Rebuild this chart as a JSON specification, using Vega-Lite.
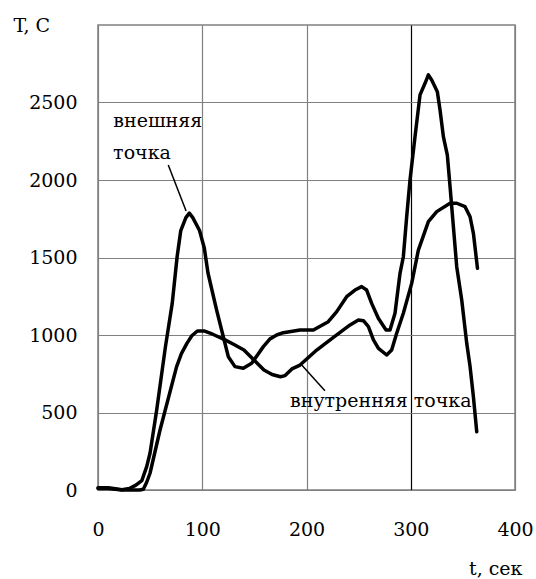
{
  "$schema": "https://vega.github.io/schema/vega-lite/v6.json",
  "width": 417,
  "height": 465,
  "autosize": {"type": "none"},
  "padding": {"left": 98, "top": 25, "right": 21, "bottom": 89},
  "background": "white",
  "config": {
    "view": {"stroke": "#808080", "strokeWidth": 1.5},
    "font": "DejaVu Serif"
  },
  "datasets": {
    "curves": [
      {"series": "outer", "t": 0, "T": 14},
      {"series": "outer", "t": 10, "T": 14},
      {"series": "outer", "t": 23, "T": 2},
      {"series": "outer", "t": 30, "T": 10},
      {"series": "outer", "t": 36, "T": 30},
      {"series": "outer", "t": 42, "T": 60},
      {"series": "outer", "t": 46.7, "T": 151},
      {"series": "outer", "t": 49.9, "T": 237},
      {"series": "outer", "t": 56.3, "T": 516},
      {"series": "outer", "t": 64.7, "T": 925},
      {"series": "outer", "t": 71.2, "T": 1204},
      {"series": "outer", "t": 75.9, "T": 1505},
      {"series": "outer", "t": 79.4, "T": 1674},
      {"series": "outer", "t": 84.3, "T": 1757},
      {"series": "outer", "t": 87.6, "T": 1786},
      {"series": "outer", "t": 90.9, "T": 1757},
      {"series": "outer", "t": 97.4, "T": 1674},
      {"series": "outer", "t": 102, "T": 1560},
      {"series": "outer", "t": 105.5, "T": 1400},
      {"series": "outer", "t": 113.8, "T": 1161},
      {"series": "outer", "t": 120.2, "T": 989},
      {"series": "outer", "t": 125, "T": 860},
      {"series": "outer", "t": 131.4, "T": 796},
      {"series": "outer", "t": 139.4, "T": 785},
      {"series": "outer", "t": 147.4, "T": 817},
      {"series": "outer", "t": 158.6, "T": 925},
      {"series": "outer", "t": 165, "T": 975},
      {"series": "outer", "t": 171.4, "T": 1000},
      {"series": "outer", "t": 177.8, "T": 1015},
      {"series": "outer", "t": 193.8, "T": 1032},
      {"series": "outer", "t": 206.6, "T": 1032},
      {"series": "outer", "t": 220.9, "T": 1086},
      {"series": "outer", "t": 229, "T": 1151},
      {"series": "outer", "t": 238.5, "T": 1247},
      {"series": "outer", "t": 246.5, "T": 1290},
      {"series": "outer", "t": 252.9, "T": 1312},
      {"series": "outer", "t": 257.7, "T": 1290},
      {"series": "outer", "t": 262.5, "T": 1204},
      {"series": "outer", "t": 268.9, "T": 1108},
      {"series": "outer", "t": 276.3, "T": 1032},
      {"series": "outer", "t": 280.1, "T": 1032},
      {"series": "outer", "t": 284.9, "T": 1140},
      {"series": "outer", "t": 289.7, "T": 1398},
      {"series": "outer", "t": 292.9, "T": 1505},
      {"series": "outer", "t": 296.1, "T": 1763},
      {"series": "outer", "t": 299.3, "T": 2000},
      {"series": "outer", "t": 304.1, "T": 2280},
      {"series": "outer", "t": 308.9, "T": 2549},
      {"series": "outer", "t": 313.7, "T": 2624},
      {"series": "outer", "t": 316.9, "T": 2678},
      {"series": "outer", "t": 320.1, "T": 2645},
      {"series": "outer", "t": 325.5, "T": 2570},
      {"series": "outer", "t": 328.1, "T": 2452},
      {"series": "outer", "t": 331.3, "T": 2280},
      {"series": "outer", "t": 335.1, "T": 2161},
      {"series": "outer", "t": 337.7, "T": 1957},
      {"series": "outer", "t": 340.9, "T": 1699},
      {"series": "outer", "t": 344.1, "T": 1441},
      {"series": "outer", "t": 348.9, "T": 1226},
      {"series": "outer", "t": 353.7, "T": 946},
      {"series": "outer", "t": 356.9, "T": 796},
      {"series": "outer", "t": 360.1, "T": 602},
      {"series": "outer", "t": 363.3, "T": 376},
      {"series": "inner", "t": 0, "T": 10},
      {"series": "inner", "t": 10, "T": 10},
      {"series": "inner", "t": 23, "T": 0},
      {"series": "inner", "t": 40, "T": 0},
      {"series": "inner", "t": 43.5, "T": 5},
      {"series": "inner", "t": 46.7, "T": 50},
      {"series": "inner", "t": 49.9, "T": 108},
      {"series": "inner", "t": 59.5, "T": 387},
      {"series": "inner", "t": 75.4, "T": 796},
      {"series": "inner", "t": 80, "T": 880},
      {"series": "inner", "t": 85.3, "T": 946},
      {"series": "inner", "t": 90, "T": 995},
      {"series": "inner", "t": 95.3, "T": 1026},
      {"series": "inner", "t": 101.7, "T": 1026},
      {"series": "inner", "t": 110, "T": 1005},
      {"series": "inner", "t": 120.9, "T": 972},
      {"series": "inner", "t": 130, "T": 940},
      {"series": "inner", "t": 140, "T": 903},
      {"series": "inner", "t": 149.6, "T": 839},
      {"series": "inner", "t": 159.2, "T": 774},
      {"series": "inner", "t": 167, "T": 745},
      {"series": "inner", "t": 175, "T": 731},
      {"series": "inner", "t": 179.5, "T": 738},
      {"series": "inner", "t": 186, "T": 781},
      {"series": "inner", "t": 193.8, "T": 806},
      {"series": "inner", "t": 209.8, "T": 903},
      {"series": "inner", "t": 225.8, "T": 985},
      {"series": "inner", "t": 241.8, "T": 1065},
      {"series": "inner", "t": 249.8, "T": 1097},
      {"series": "inner", "t": 254.6, "T": 1092},
      {"series": "inner", "t": 259.4, "T": 1054},
      {"series": "inner", "t": 264.2, "T": 968},
      {"series": "inner", "t": 269, "T": 914},
      {"series": "inner", "t": 276.9, "T": 871},
      {"series": "inner", "t": 281.7, "T": 903},
      {"series": "inner", "t": 286.5, "T": 1011},
      {"series": "inner", "t": 292.9, "T": 1140},
      {"series": "inner", "t": 300.9, "T": 1333},
      {"series": "inner", "t": 307.3, "T": 1548},
      {"series": "inner", "t": 316.9, "T": 1731},
      {"series": "inner", "t": 324.9, "T": 1796},
      {"series": "inner", "t": 337.7, "T": 1850},
      {"series": "inner", "t": 344.1, "T": 1850},
      {"series": "inner", "t": 352.1, "T": 1828},
      {"series": "inner", "t": 356.9, "T": 1763},
      {"series": "inner", "t": 360.1, "T": 1656},
      {"series": "inner", "t": 364, "T": 1430}
    ],
    "pointers": [
      {"t": 67.4, "T": 2097, "t2": 84.5, "T2": 1800},
      {"t": 195.4, "T": 806, "t2": 217.7, "T2": 641}
    ],
    "labels": [
      {"t": 14.7, "T": 2342, "label": "внешняя"},
      {"t": 14.5, "T": 2136, "label": "точка"},
      {"t": 184.2, "T": 537, "label": "внутренняя точка"}
    ]
  },
  "layer": [
    {
      "data": {"name": "curves"},
      "mark": {"type": "line", "color": "black", "strokeWidth": 3.5, "strokeJoin": "round", "strokeCap": "round"},
      "encoding": {
        "x": {
          "field": "t", "type": "quantitative",
          "scale": {"domain": [0, 400], "nice": false, "zero": false},
          "axis": {
            "values": [0, 100, 200, 300, 400],
            "format": "d",
            "grid": true,
            "gridColor": {"condition": {"test": "datum.value === 300", "value": "black"}, "value": "#808080"},
            "gridWidth": 1.2,
            "gridOpacity": 1,
            "domain": false,
            "ticks": false,
            "tickSize": 0,
            "labelFont": "DejaVu Serif",
            "labelFontSize": 19,
            "labelColor": "black",
            "labelBaseline": "alphabetic",
            "labelPadding": 45,
            "labelFlush": false,
            "labelOverlap": false,
            "title": "t, сек",
            "titleFont": "DejaVu Serif",
            "titleFontSize": 19,
            "titleFontWeight": "normal",
            "titleColor": "black",
            "titleAlign": "right",
            "titleBaseline": "alphabetic",
            "titleAnchor": null,
            "titleX": 424,
            "titleY": 84
          }
        },
        "y": {
          "field": "T", "type": "quantitative",
          "scale": {"domain": [0, 3000], "nice": false},
          "axis": {
            "values": [0, 500, 1000, 1500, 2000, 2500],
            "format": "d",
            "grid": true,
            "gridColor": "#808080",
            "gridWidth": 1.2,
            "gridOpacity": 1,
            "domain": false,
            "ticks": false,
            "tickSize": 0,
            "labelFont": "DejaVu Serif",
            "labelFontSize": 19,
            "labelColor": "black",
            "labelPadding": 21,
            "labelBaseline": "middle",
            "labelFlush": false,
            "labelOverlap": false,
            "title": "T, C",
            "titleFont": "DejaVu Serif",
            "titleFontSize": 19,
            "titleFontWeight": "normal",
            "titleColor": "black",
            "titleAngle": 0,
            "titleAlign": "left",
            "titleBaseline": "alphabetic",
            "titleAnchor": null,
            "titleX": -85,
            "titleY": 6
          }
        },
        "detail": {"field": "series", "type": "nominal"}
      }
    },
    {
      "data": {"name": "pointers"},
      "mark": {"type": "rule", "color": "black", "strokeWidth": 1.5},
      "encoding": {
        "x": {"field": "t", "type": "quantitative"},
        "y": {"field": "T", "type": "quantitative"},
        "x2": {"field": "t2"},
        "y2": {"field": "T2"}
      }
    },
    {
      "data": {"name": "labels"},
      "mark": {"type": "text", "font": "DejaVu Serif", "fontSize": 19, "color": "black", "align": "left", "baseline": "alphabetic"},
      "encoding": {
        "x": {"field": "t", "type": "quantitative"},
        "y": {"field": "T", "type": "quantitative"},
        "text": {"field": "label", "type": "nominal"}
      }
    }
  ]
}
